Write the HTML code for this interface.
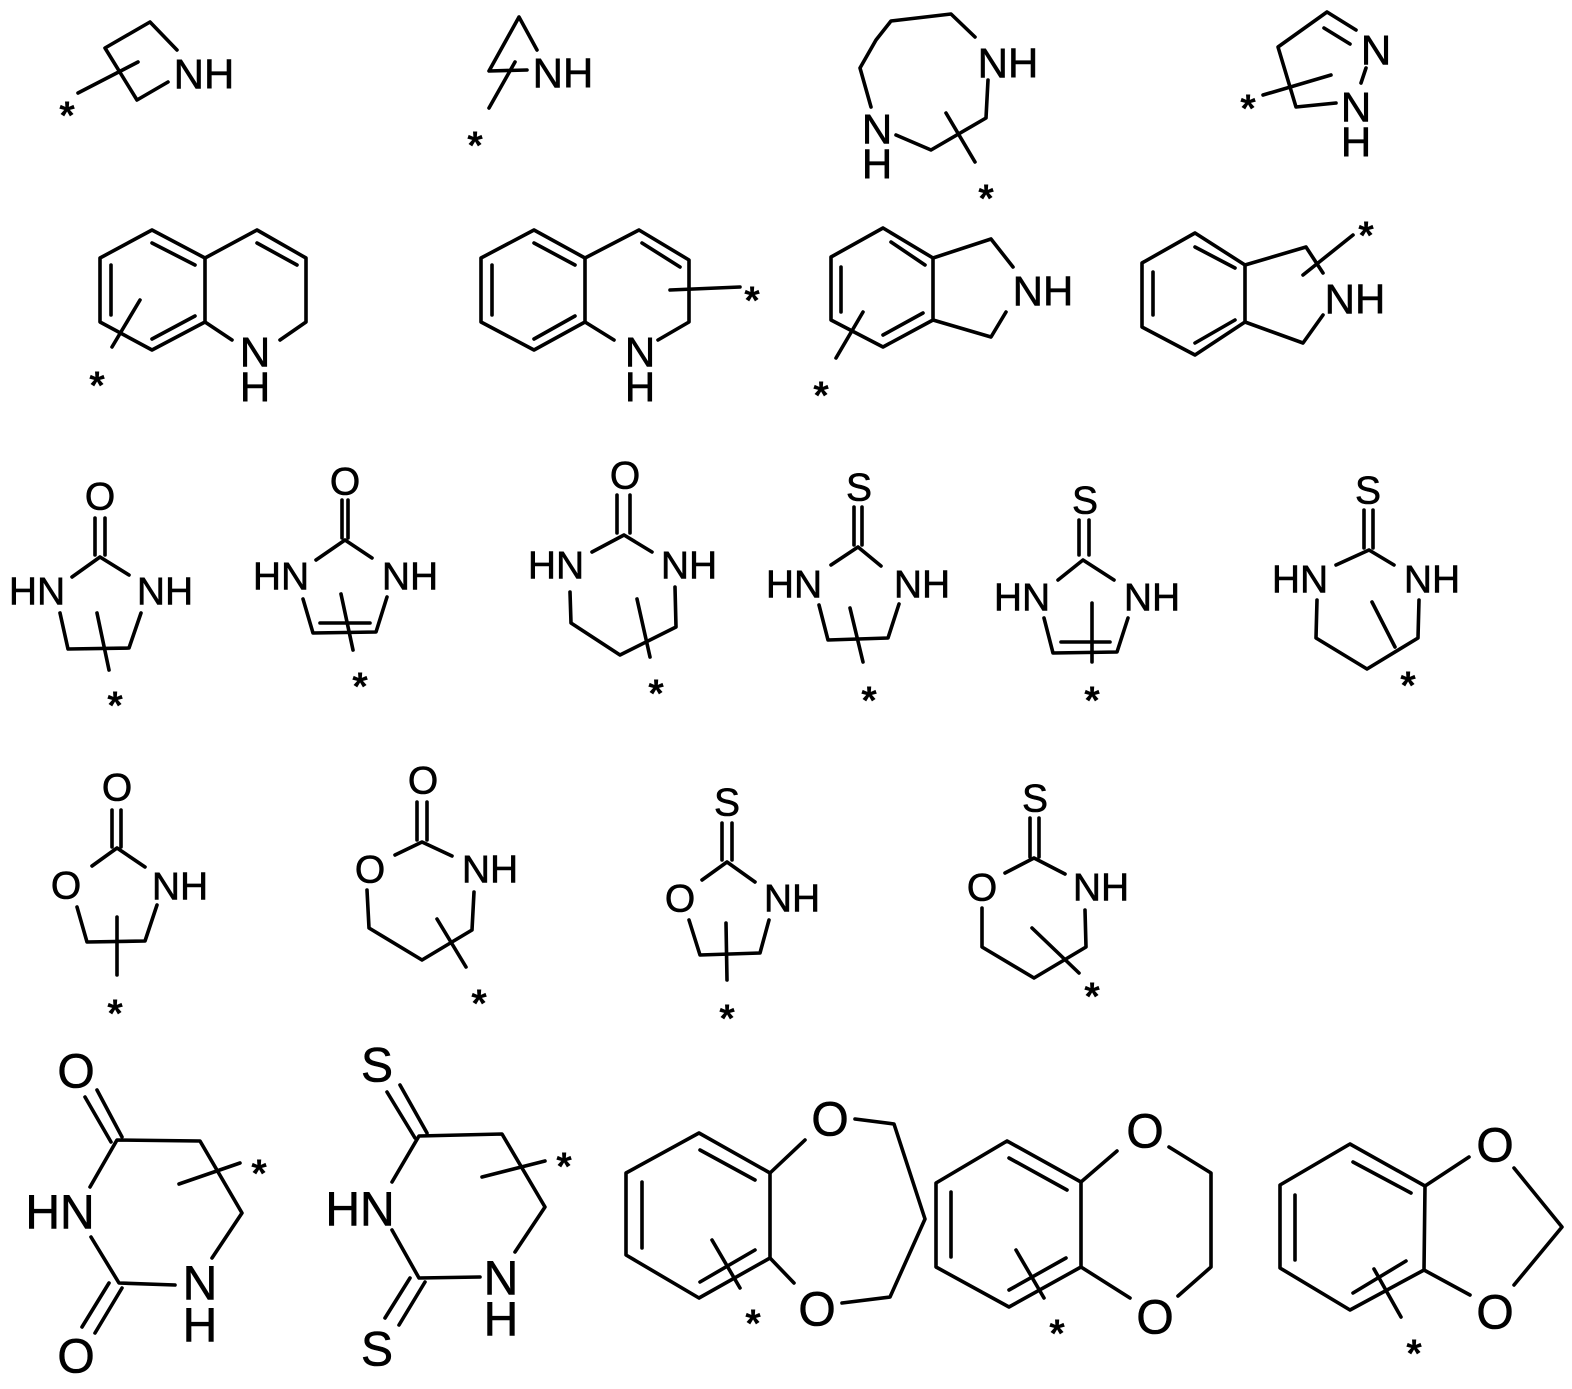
<!DOCTYPE html>
<html><head><meta charset="utf-8"><style>
html,body{margin:0;padding:0;background:#fff}
svg{display:block}
text{font-family:"Liberation Sans",sans-serif;fill:#000;stroke:#000;stroke-width:0.6}
.l{font-size:42px}
.m{font-size:39px}
.b{font-size:48px}
.a{font-size:40px;font-weight:bold;stroke-width:0}
</style></head><body>
<svg width="1572" height="1389" viewBox="0 0 1572 1389" xmlns="http://www.w3.org/2000/svg">
<g fill="none" stroke="#000" stroke-width="3.6" stroke-linecap="round" stroke-linejoin="round">
<path d="M177,50 L150,22 L105,48 L137,100 L168,82"/>
<path d="M78,93 L138,62"/>
<path d="M537,50 L519,17 L489,71 L527,70"/>
<path d="M515,62 L489,108"/>
<path d="M975,37 L951,14 L891,21 L876,40 L860,68 L871,107"/>
<path d="M896,135 L931,150 L986,118 L988,80"/>
<path d="M946,113 L975,162"/>
<path d="M1356,30 L1327,12 L1278,47 L1296,107 L1336,103"/>
<path d="M1324,28 L1350,44"/>
<path d="M1366,68 L1361,83"/>
<path d="M1263,95 L1331,75"/>
<path d="M152,230 L205,258 L205,322 L152,350 L100,322 L100,258 Z"/>
<path d="M205,258 L257,230 L306,258 L306,322 L280,340"/>
<path d="M205,322 L232,340"/>
<path d="M152,243 L195,265 M111,265 L111,315 M152,339 L195,316 M257,243 L297,265"/>
<path d="M140,300 L112,347"/>
<path d="M534,230 L585,258 L585,322 L534,350 L481,322 L481,258 Z"/>
<path d="M585,258 L639,230 L689,260 L689,322 L658,340"/>
<path d="M585,322 L614,340"/>
<path d="M534,243 L575,265 M492,265 L492,315 M534,339 L575,316 M642,243 L680,267"/>
<path d="M670,290 L740,287"/>
<path d="M883,228 L933,258 L933,320 L883,347 L831,320 L831,257 Z"/>
<path d="M933,258 L991,239 L1013,267 M1006,312 L991,337 L933,320"/>
<path d="M891,242 L925,265 M841,267 L841,312 M883,335 L923,313"/>
<path d="M863,312 L836,358"/>
<path d="M1195,233 L1245,265 L1245,322 L1195,355 L1142,327 L1142,263 Z"/>
<path d="M1245,265 L1306,247 L1323,273 M1323,315 L1303,343 L1245,322"/>
<path d="M1195,247 L1235,268 M1153,272 L1153,315 M1195,343 L1235,320"/>
<path d="M1303,275 L1353,235"/>
<path d="M95,518 L95,555 M105,518 L105,555"/>
<path d="M72,577 L100,557 L129,575"/>
<path d="M60,613 L68,649 L129,648 L141,613"/>
<path d="M97,613 L109,670"/>
<path d="M342,500 L342,538 M348,500 L348,538"/>
<path d="M316,560 L345,540 L372,558"/>
<path d="M303,599 L313,633 L376,632 L387,597"/>
<path d="M320,623 L370,623"/>
<path d="M341,594 L353,650"/>
<path d="M617,495 L617,533 M630,495 L630,533"/>
<path d="M592,552 L624,535 L652,552"/>
<path d="M570,592 L571,623 L620,655 L676,627 L675,587"/>
<path d="M637,599 L650,657"/>
<path d="M854,507 L854,545 M862,507 L862,545"/>
<path d="M831,565 L858,547 L881,566"/>
<path d="M819,605 L828,640 L888,638 L899,604"/>
<path d="M850,608 L863,662"/>
<path d="M1079,520 L1079,555 M1089,520 L1089,555"/>
<path d="M1058,580 L1083,560 L1114,580"/>
<path d="M1044,618 L1053,653 L1117,652 L1128,618"/>
<path d="M1061,642 L1110,642"/>
<path d="M1092,603 L1092,662"/>
<path d="M1364,510 L1364,548 M1373,510 L1373,548"/>
<path d="M1336,565 L1369,550 L1394,565"/>
<path d="M1317,600 L1316,638 L1367,669 L1418,638 L1419,600"/>
<path d="M1372,602 L1395,647"/>
<path d="M112,810 L112,847 M121,810 L121,847"/>
<path d="M92,866 L117,848 L145,867"/>
<path d="M77,907 L87,942 L145,941 L157,905"/>
<path d="M117,917 L117,975"/>
<path d="M417,802 L417,840 M427,802 L427,840"/>
<path d="M395,855 L422,842 L452,856"/>
<path d="M367,890 L369,928 L422,960 L472,930 L474,892"/>
<path d="M437,919 L466,967"/>
<path d="M722,823 L722,860 M732,823 L732,860"/>
<path d="M702,880 L727,862 L755,882"/>
<path d="M689,920 L700,955 L760,953 L769,920"/>
<path d="M726,923 L727,980"/>
<path d="M1030,818 L1030,857 M1039,818 L1039,857"/>
<path d="M1005,873 L1034,858 L1065,874"/>
<path d="M982,908 L982,947 L1034,978 L1086,947 L1085,910"/>
<path d="M1032,928 L1079,973"/>
<path d="M85,1097 L111,1142 M97,1090 L122,1137"/>
<path d="M90,1187 L117,1140 L200,1141 L242,1213 L212,1258"/>
<path d="M91,1237 L119,1283 L175,1285"/>
<path d="M109,1283 L82,1327 M122,1288 L95,1333"/>
<path d="M179,1184 L240,1163"/>
<path d="M387,1092 L415,1138 M400,1085 L427,1133"/>
<path d="M392,1182 L419,1136 L502,1134 L545,1207 L515,1252"/>
<path d="M392,1230 L419,1278 L480,1277"/>
<path d="M410,1278 L385,1318 M425,1282 L399,1325"/>
<path d="M482,1177 L545,1161"/>
<path d="M699,1133 L770,1173 L770,1258 L699,1298 L626,1255 L626,1173 Z"/>
<path d="M700,1150 L755,1180 M642,1182 L642,1248 M700,1282 L755,1250"/>
<path d="M770,1173 L805,1140 M855,1119 L894,1124 L925,1219 L890,1297 L842,1303 M770,1258 L794,1283"/>
<path d="M712,1240 L740,1288"/>
<path d="M1007,1141 L1081,1182 L1081,1267 L1009,1307 L936,1267 L936,1183 Z"/>
<path d="M1009,1158 L1067,1190 M951,1192 L951,1257 M1009,1290 L1066,1258"/>
<path d="M1081,1182 L1117,1151 M1169,1147 L1211,1173 L1211,1267 L1178,1296 M1081,1267 L1130,1298"/>
<path d="M1016,1250 L1044,1298"/>
<path d="M1350,1144 L1425,1186 L1424,1270 L1350,1310 L1280,1268 L1280,1185 Z"/>
<path d="M1353,1162 L1411,1193 M1295,1195 L1295,1260 M1353,1293 L1406,1261"/>
<path d="M1425,1186 L1469,1157 M1514,1168 L1562,1227 L1514,1285 M1424,1270 L1470,1295"/>
<path d="M1374,1269 L1401,1317"/>
</g>
<g dominant-baseline="central" text-anchor="middle">
<text class="l" x="204" y="74">NH</text>
<text class="l" x="563" y="73">NH</text>
<text class="l" x="1008" y="63">NH</text>
<text class="l" x="877" y="129">N</text>
<text class="l" x="877" y="164">H</text>
<text class="l" x="1376" y="50">N</text>
<text class="l" x="1356" y="107">N</text>
<text class="l" x="1356" y="142">H</text>
<text class="l" x="255" y="352">N</text>
<text class="l" x="255" y="387">H</text>
<text class="l" x="640" y="352">N</text>
<text class="l" x="640" y="387">H</text>
<text class="l" x="1043" y="291">NH</text>
<text class="l" x="1355" y="299">NH</text>
<text class="m" x="100" y="497">O</text>
<text class="m" x="37" y="592">HN</text>
<text class="m" x="165" y="592">NH</text>
<text class="m" x="345" y="482">O</text>
<text class="m" x="281" y="577">HN</text>
<text class="m" x="410" y="577">NH</text>
<text class="m" x="625" y="476">O</text>
<text class="m" x="556" y="566">HN</text>
<text class="m" x="689" y="566">NH</text>
<text class="m" x="859" y="488">S</text>
<text class="m" x="794" y="585">HN</text>
<text class="m" x="922" y="585">NH</text>
<text class="m" x="1085" y="501">S</text>
<text class="m" x="1022" y="598">HN</text>
<text class="m" x="1152" y="598">NH</text>
<text class="m" x="1368" y="491">S</text>
<text class="m" x="1300" y="580">HN</text>
<text class="m" x="1432" y="580">NH</text>
<text class="m" x="117" y="788">O</text>
<text class="m" x="66" y="886">O</text>
<text class="m" x="180" y="887">NH</text>
<text class="m" x="423" y="781">O</text>
<text class="m" x="370" y="870">O</text>
<text class="m" x="490" y="870">NH</text>
<text class="m" x="727" y="803">S</text>
<text class="m" x="680" y="899">O</text>
<text class="m" x="792" y="899">NH</text>
<text class="m" x="1035" y="799">S</text>
<text class="m" x="982" y="888">O</text>
<text class="m" x="1101" y="888">NH</text>
<text class="b" x="76" y="1072">O</text>
<text class="b" x="60" y="1213">HN</text>
<text class="b" x="200" y="1284">N</text>
<text class="b" x="200" y="1326">H</text>
<text class="b" x="76" y="1357">O</text>
<text class="b" x="377" y="1066">S</text>
<text class="b" x="360" y="1210">HN</text>
<text class="b" x="501" y="1279">N</text>
<text class="b" x="501" y="1320">H</text>
<text class="b" x="377" y="1350">S</text>
<text class="b" x="830" y="1120">O</text>
<text class="b" x="817" y="1310">O</text>
<text class="b" x="1145" y="1132">O</text>
<text class="b" x="1155" y="1318">O</text>
<text class="b" x="1495" y="1146">O</text>
<text class="b" x="1495" y="1313">O</text>
</g>
<g text-anchor="middle">
<text class="a" x="67" y="129">*</text>
<text class="a" x="475" y="159">*</text>
<text class="a" x="986" y="212">*</text>
<text class="a" x="1248" y="122">*</text>
<text class="a" x="97" y="399">*</text>
<text class="a" x="752" y="314">*</text>
<text class="a" x="821" y="409">*</text>
<text class="a" x="1366" y="249">*</text>
<text class="a" x="115" y="719">*</text>
<text class="a" x="360" y="700">*</text>
<text class="a" x="656" y="707">*</text>
<text class="a" x="869" y="714">*</text>
<text class="a" x="1092" y="714">*</text>
<text class="a" x="1408" y="699">*</text>
<text class="a" x="115" y="1027">*</text>
<text class="a" x="479" y="1017">*</text>
<text class="a" x="727" y="1032">*</text>
<text class="a" x="1092" y="1010">*</text>
<text class="a" x="259" y="1187">*</text>
<text class="a" x="564" y="1180">*</text>
<text class="a" x="753" y="1337">*</text>
<text class="a" x="1057" y="1347">*</text>
<text class="a" x="1414" y="1367">*</text>
</g>
</svg>
</body></html>
